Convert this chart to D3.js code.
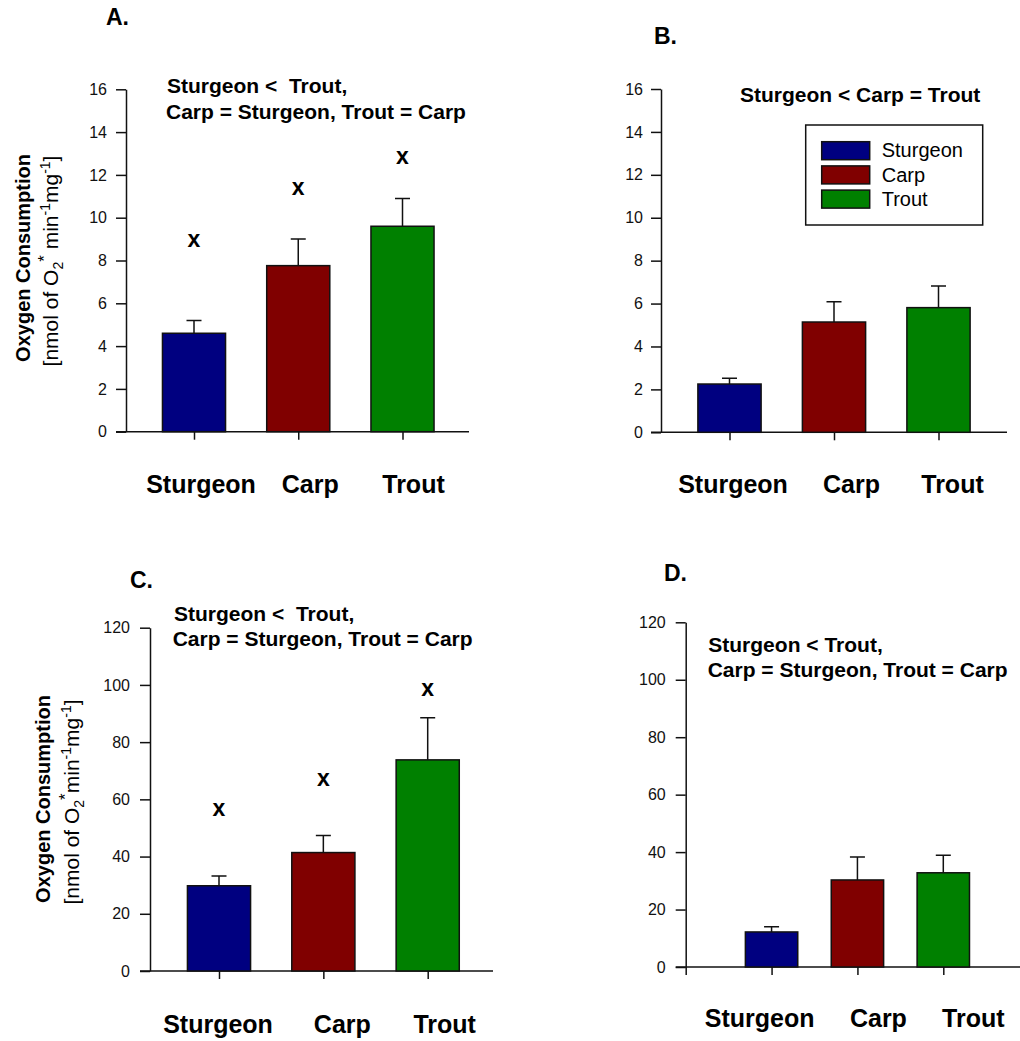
<!DOCTYPE html>
<html>
<head>
<meta charset="utf-8">
<script src="https://cdn.jsdelivr.net/npm/d3@7"></script>
<style>
  body { margin: 0; background: #fff; }
  svg { display: block; font-family: "Liberation Sans", Arial, sans-serif; }
  .annot { white-space: pre; }
</style>
</head>
<body>
<script>
// species and colours shared by all four panels
var species = ["Sturgeon", "Carp", "Trout"];
var colors = ["#000080", "#800000", "#008000"];

// panel A
var meanA = [4.6, 7.76, 9.6];
var semA = [0.6, 1.24, 1.3];
var letterA = ["x", "x", "x"];
var letterPosA = [8.64, 11.06, 12.5];
var ticksA = [0, 2, 4, 6, 8, 10, 12, 14, 16];

// panel B
var meanB = [2.25, 5.14, 5.81];
var semB = [0.27, 0.95, 1.01];
var ticksB = [0, 2, 4, 6, 8, 10, 12, 14, 16];

// panel C
var meanC = [29.8, 41.4, 73.8];
var semC = [3.4, 6.0, 14.7];
var letterC = ["x", "x", "x"];
var letterPosC = [54.2, 64.7, 96.1];
var ticksC = [0, 20, 40, 60, 80, 100, 120];

// panel D
var meanD = [12.2, 30.3, 32.8];
var semD = [1.8, 8.0, 6.1];
var ticksD = [0, 20, 40, 60, 80, 100, 120];

var svg = d3.select("body").append("svg")
    .attr("width", 1020)
    .attr("height", 1041);

svg.append("rect").attr("width", 1020).attr("height", 1041).attr("fill", "#fff");

var panels = [
    {
        letter: "A.", letterX: 106, letterY: 25,
        mean: meanA, sem: semA, ticks: ticksA, letters: letterA, letterPos: letterPosA,
        slots: species, xFirst: 194, xLast: 402.5, barRatio: 0.605,
        axisX: 126, xEnd: 469, y0: 431.7, y1: 89.3, tickPad: 9, tickFont: 16,
        labelY: 493, labelDx: [7, 12, 11],
        annot: [["Sturgeon <  Trout,", 167, 93.3], ["Carp = Sturgeon, Trout = Carp", 166, 119.3]],
        ylab: { x1: 30, x2: 58, cy: 258, space: true }
    },
    {
        letter: "B.", letterX: 654, letterY: 44.3,
        mean: meanB, sem: semB, ticks: ticksB,
        slots: species, xFirst: 729.5, xLast: 938.5, barRatio: 0.605,
        axisX: 661, xEnd: 1007, y0: 432.3, y1: 89, tickPad: 8, tickFont: 16,
        labelY: 493, labelDx: [3.5, 17.5, 14],
        annot: [["Sturgeon < Carp = Trout", 740, 102.3]],
        legend: true
    },
    {
        letter: "C.", letterX: 130, letterY: 588,
        mean: meanC, sem: semC, ticks: ticksC, letters: letterC, letterPos: letterPosC,
        slots: species, xFirst: 219, xLast: 427.7, barRatio: 0.605,
        axisX: 150, xEnd: 493, y0: 971, y1: 627.7, tickPad: 10, tickFont: 16,
        labelY: 1032.7, labelDx: [-1, 19, 17],
        annot: [["Sturgeon <  Trout,", 174, 620.7], ["Carp = Sturgeon, Trout = Carp", 172.7, 645.7]],
        ylab: { x1: 50, x2: 79, cy: 799, space: false }
    },
    {
        letter: "D.", letterX: 664, letterY: 580.7,
        mean: meanD, sem: semD, ticks: ticksD,
        slots: [""].concat(species), xFirst: 685.7, xLast: 943.3, barRatio: 0.61,
        axisX: 685.7, xEnd: 1020, y0: 967, y1: 622.3, tickPad: 10, tickFont: 16,
        labelY: 1026.7, labelDx: [-12, 21, 30],
        annot: [["Sturgeon < Trout,", 708.3, 651.7], ["Carp = Sturgeon, Trout = Carp", 707.7, 677.3]]
    }
];

function yLabel(g, p) {
    var l = p.ylab;
    g.append("text")
        .attr("transform", "translate(" + l.x1 + "," + l.cy + ") rotate(-90)")
        .attr("text-anchor", "middle")
        .attr("font-size", 20)
        .attr("font-weight", "bold")
        .text("Oxygen Consumption");

    var t = g.append("text")
        .attr("transform", "translate(" + l.x2 + "," + (l.cy + 3) + ") rotate(-90)")
        .attr("text-anchor", "middle")
        .attr("font-size", 21);
    var small = 14;
    t.append("tspan").text("[nmol of O");
    t.append("tspan").attr("font-size", small).attr("dy", 5).text("2");
    t.append("tspan").attr("font-size", 17).attr("dy", -13).text("*");
    t.append("tspan").attr("dy", 8).text(l.space ? " min" : "min");
    t.append("tspan").attr("font-size", small).attr("dy", -8).text("-1");
    t.append("tspan").attr("dy", 8).text("mg");
    t.append("tspan").attr("font-size", small).attr("dy", -8).text("-1");
    t.append("tspan").attr("dy", 8).text("]");
}

function drawPanel(p) {
    var g = svg.append("g");
    var yMax = p.ticks[p.ticks.length - 1];

    var y = d3.scaleLinear().domain([0, yMax]).range([p.y0, p.y1]);
    var x = d3.scalePoint().domain(p.slots).range([p.xFirst, p.xLast]).padding(0);
    var bw = x.step() * p.barRatio;

    // y axis
    var ya = g.append("g")
        .attr("transform", "translate(" + p.axisX + ",0)")
        .call(d3.axisLeft(y).tickValues(p.ticks).tickSize(10).tickPadding(p.tickPad).tickSizeOuter(0));
    ya.selectAll("path, line").attr("stroke", "#111").attr("stroke-width", 1.5);
    ya.selectAll("text").attr("font-size", p.tickFont).attr("fill", "#111")
        .attr("font-family", "Liberation Sans, Arial, sans-serif");

    // x axis
    g.append("line")
        .attr("x1", p.axisX - 10).attr("x2", p.xEnd)
        .attr("y1", p.y0).attr("y2", p.y0)
        .attr("stroke", "#111").attr("stroke-width", 1.5);
    var xa = g.append("g")
        .attr("transform", "translate(0," + p.y0 + ")")
        .call(d3.axisBottom(x).tickSize(8).tickFormat(""));
    xa.select(".domain").remove();
    xa.selectAll("line").attr("stroke", "#111").attr("stroke-width", 1.5);

    var rows = species.map(function(s, i) {
        return { name: s, mean: p.mean[i], sem: p.sem[i], color: colors[i], i: i };
    });

    // error bars (upper only)
    g.selectAll(".err")
        .data(rows)
        .enter()
        .append("path")
        .attr("fill", "none")
        .attr("stroke", "#111")
        .attr("stroke-width", 1.5)
        .attr("d", function(d) {
            var cx = x(d.name);
            var top = y(d.mean + d.sem);
            return "M" + cx + "," + y(d.mean) + "V" + top + "M" + (cx - 7.5) + "," + top + "H" + (cx + 7.5);
        });

    // bars
    g.selectAll(".bar")
        .data(rows)
        .enter()
        .append("rect")
        .attr("x", function(d) { return x(d.name) - bw / 2; })
        .attr("width", bw)
        .attr("y", function(d) { return y(d.mean); })
        .attr("height", function(d) { return y(0) - y(d.mean); })
        .attr("fill", function(d) { return d.color; })
        .attr("stroke", "#111")
        .attr("stroke-width", 1.5);

    // significance letters
    if (p.letters) {
        g.selectAll(".sig")
            .data(rows)
            .enter()
            .append("text")
            .attr("x", function(d) { return x(d.name); })
            .attr("y", function(d) { return y(p.letterPos[d.i]); })
            .attr("text-anchor", "middle")
            .attr("font-size", 23)
            .attr("font-weight", "bold")
            .text(function(d) { return p.letters[d.i]; });
    }

    // category labels
    g.selectAll(".cat")
        .data(rows)
        .enter()
        .append("text")
        .attr("x", function(d) { return x(d.name) + p.labelDx[d.i]; })
        .attr("y", p.labelY)
        .attr("text-anchor", "middle")
        .attr("font-size", 25)
        .attr("font-weight", "bold")
        .text(function(d) { return d.name; });

    // annotation lines
    p.annot.forEach(function(a) {
        g.append("text")
            .attr("class", "annot")
            .attr("x", a[1]).attr("y", a[2])
            .attr("font-size", 21)
            .attr("font-weight", "bold")
            .text(a[0]);
    });

    // panel letter
    g.append("text")
        .attr("x", p.letterX).attr("y", p.letterY)
        .attr("font-size", 23)
        .attr("font-weight", "bold")
        .text(p.letter);

    if (p.ylab) {
        yLabel(g, p);
    }

    if (p.legend) {
        var lg = g.append("g");
        lg.append("rect")
            .attr("x", 805.7).attr("y", 125)
            .attr("width", 177).attr("height", 100)
            .attr("fill", "#fff").attr("stroke", "#111").attr("stroke-width", 1.5);
        var items = lg.selectAll(".item")
            .data(rows)
            .enter()
            .append("g")
            .attr("transform", function(d) { return "translate(821.7," + (141.7 + d.i * 24.2) + ")"; });
        items.append("rect")
            .attr("width", 48).attr("height", 18)
            .attr("fill", function(d) { return d.color; })
            .attr("stroke", "#111").attr("stroke-width", 1.5);
        items.append("text")
            .attr("x", 60).attr("y", 15.6)
            .attr("font-size", 20)
            .text(function(d) { return d.name; });
    }
}

panels.forEach(drawPanel);
</script>
</body>
</html>
